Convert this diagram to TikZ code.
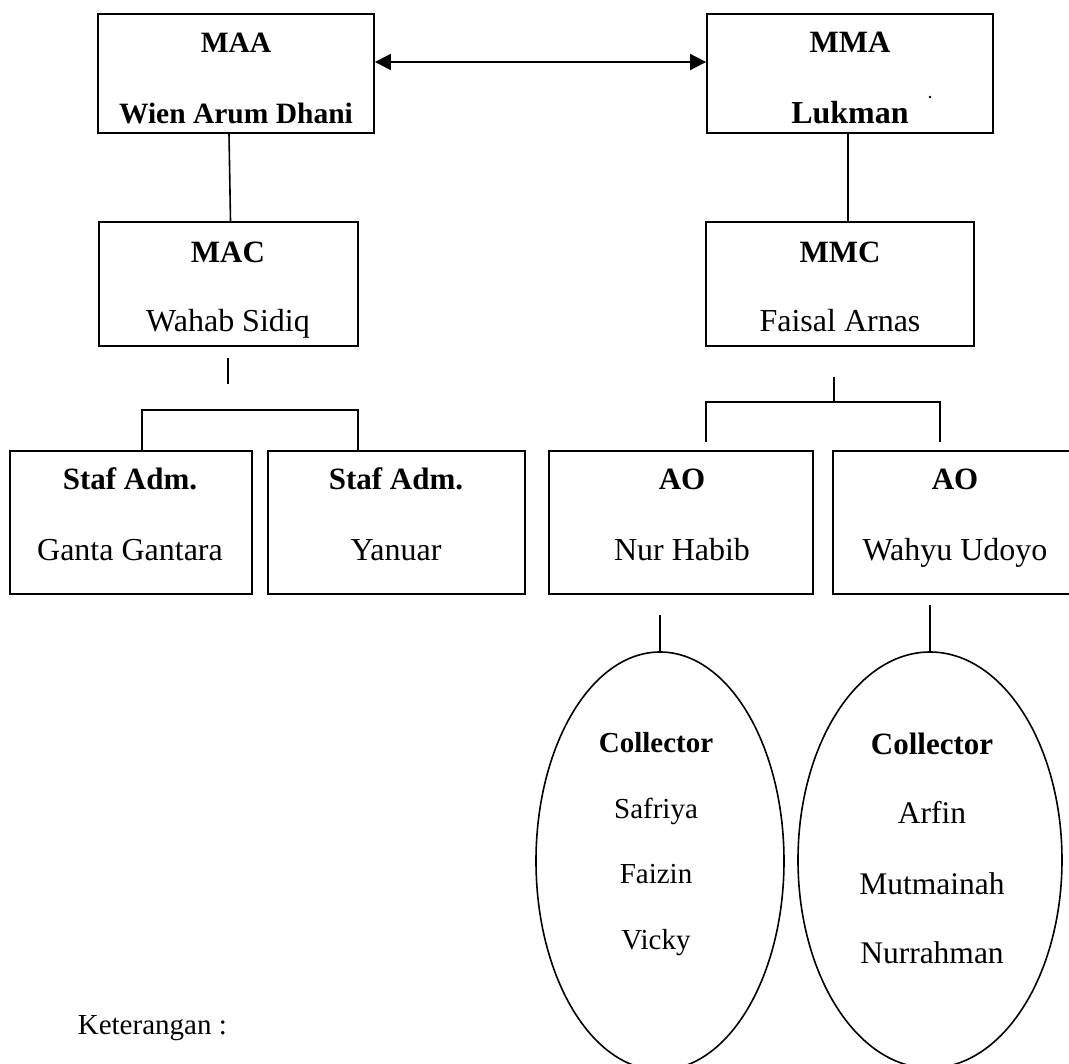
\documentclass[tikz,border=0pt]{standalone}
\usepackage{fontspec}
\setmainfont{Liberation Serif}
\usetikzlibrary{arrows.meta,shapes.geometric}
\begin{document}
\begin{tikzpicture}[x=1pt,y=-1pt,
  box/.style={draw, line width=1.8pt, inner sep=0pt},
  oval/.style={draw, ellipse, line width=1.6pt, inner sep=0pt},
  conn/.style={line width=1.6pt},
  lbl/.style={anchor=base, inner sep=0pt, font=\fontsize{32}{38}\selectfont},
  blbl/.style={anchor=base, inner sep=0pt, font=\fontsize{31}{37}\selectfont\bfseries},
  biarrow/.style={line width=1.8pt, {Triangle[length=16pt,width=16pt]}-{Triangle[length=16pt,width=16pt]}}]
\useasboundingbox (0,0) rectangle (1069,1064);
\clip (0,0) rectangle (1069,1064);
% boxes
\node[box, minimum width=276pt, minimum height=119pt] (MAA) at (236,73.5) {};
\node[box, minimum width=286pt, minimum height=119pt] (MMA) at (850,73.5) {};
\node[box, minimum width=259pt, minimum height=124pt] (MAC) at (228.5,284) {};
\node[box, minimum width=268pt, minimum height=124pt] (MMC) at (840,284) {};
\node[box, minimum width=242pt, minimum height=143pt] (S1) at (131,522.5) {};
\node[box, minimum width=257pt, minimum height=143pt] (S2) at (396.5,522.5) {};
\node[box, minimum width=264pt, minimum height=143pt] (AO1) at (681,522.5) {};
\node[box, minimum width=250pt, minimum height=143pt] (AO2) at (958,522.5) {};
\node[oval, minimum width=248pt, minimum height=418pt] (E1) at (660,861) {};
\node[oval, minimum width=264pt, minimum height=416pt] (E2) at (930,860) {};
% texts
\node[blbl, font=\fontsize{29.5}{35}\selectfont\bfseries] (tMAA) at (236,53) {MAA};
\node[blbl, font=\fontsize{29.5}{35}\selectfont\bfseries] (nMAA) at (236,124) {Wien Arum Dhani};
\node[blbl] (tMMA) at (850,53) {MMA};
\node[blbl, font=\fontsize{32}{38}\selectfont\bfseries] (nMMA) at (850,124) {Lukman};
\node[blbl] (tMAC) at (228,263) {MAC};
\node[lbl] (nMAC) at (228,332) {Wahab Sidiq};
\node[blbl] (tMMC) at (840,263) {MMC};
\node[lbl] (nMMC) at (840,332) {Faisal Arnas};
\node[blbl] (tS1) at (130,490) {Staf Adm.};
\node[lbl] (nS1) at (130,561) {Ganta Gantara};
\node[blbl] (tS2) at (396,490) {Staf Adm.};
\node[lbl] (nS2) at (396,561) {Yanuar};
\node[blbl] (tAO1) at (682,490) {AO};
\node[lbl] (nAO1) at (682,561) {Nur Habib};
\node[blbl] (tAO2) at (955,490) {AO};
\node[lbl] (nAO2) at (955,561) {Wahyu Udoyo};
\node[blbl, font=\fontsize{29}{35}\selectfont\bfseries] (tE1) at (656,752) {Collector};
\node[lbl, font=\fontsize{29}{35}\selectfont] (a1) at (656,818) {Safriya};
\node[lbl, font=\fontsize{29}{35}\selectfont] (a2) at (656,883) {Faizin};
\node[lbl, font=\fontsize{29}{35}\selectfont] (a3) at (656,949) {Vicky};
\node[blbl] (tE2) at (932,754) {Collector};
\node[lbl, font=\fontsize{31.5}{37}\selectfont] (b1) at (932,823) {Arfin};
\node[lbl, font=\fontsize{31.5}{37}\selectfont] (b2) at (932,894) {Mutmainah};
\node[lbl, font=\fontsize{31.5}{37}\selectfont] (b3) at (932,963) {Nurrahman};
\node[lbl, font=\fontsize{29}{35}\selectfont, anchor=base east] (ket) at (227,1034) {Keterangan :};
% stray dot
\fill (930,97) circle (1.3pt);
% connectors
\draw[biarrow] ([yshift=11.5pt]MAA.east) -- ([yshift=11.5pt]MMA.west);
\draw[conn] ([xshift=-7pt]MAA.south) -- ([xshift=2pt]MAC.north);
\draw[conn] ([xshift=-2pt]MMA.south) -- ([xshift=8pt]MMC.north);
\coordinate (m1) at (228,358);
\coordinate (m2) at (228,384);
\draw[conn] (m1) -- (m2);
\coordinate (lb) at (250,410);
\draw[conn] ([xshift=11pt]S1.north) |- (lb) -| ([xshift=-38.5pt]S2.north);
\coordinate (r1) at (834,377);
\coordinate (rb) at (834,402);
\draw[conn] (r1) -- (rb);
\draw[conn] ([xshift=25pt,yshift=8pt]AO1.north) |- (rb) -| ([xshift=-18pt,yshift=8pt]AO2.north);
\coordinate (e1top) at (660,615);
\coordinate (e2top) at (930,605);
\draw[conn] (e1top) -- (E1.north);
\draw[conn] (e2top) -- (E2.north);
\end{tikzpicture}
\end{document}
